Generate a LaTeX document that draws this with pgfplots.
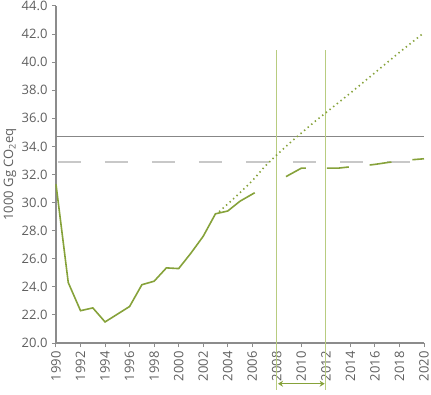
\documentclass[border=0pt]{standalone}
\usepackage{pgfplots}
\pgfplotsset{compat=1.18}
\usepackage{fontspec}
\setmainfont{Open Sans}
\usetikzlibrary{arrows.meta}

\definecolor{emis}{RGB}{134,162,58}
\definecolor{kyoto}{RGB}{184,204,128}
\definecolor{axisgray}{RGB}{140,140,140}
\definecolor{txtgray}{RGB}{95,95,95}
\definecolor{basegray}{RGB}{135,135,135}
\definecolor{targetgray}{RGB}{200,200,200}

\begin{document}
\fontsize{13bp}{15bp}\selectfont
\begin{tikzpicture}[font=\fontsize{13bp}{15bp}\selectfont]
\begin{axis}[
  scale only axis,
  width=368bp, height=337bp,
  xmin=1990, xmax=2020,
  ymin=20, ymax=44,
  xtick={1990,1992,...,2020},
  ytick={20,22,...,44},
  axis x line*=bottom,
  axis y line*=left,
  axis line style={axisgray, line width=1.1bp},
  tick style={axisgray, line width=1bp},
  tick align=outside,
  major tick length=4bp,
  /pgf/number format/assume math mode=true,
  tick label style={font=\fontsize{13bp}{15bp}\selectfont, text=txtgray},
  x tick label style={rotate=90, anchor=east,
    /pgf/number format/1000 sep={}},
  y tick label style={/pgf/number format/.cd, fixed, fixed zerofill, precision=1},
  ylabel={1000 Gg CO\textsubscript{2}eq},
  every axis y label/.style={at={(axis description cs:0,0.5)}, rotate=90,
    anchor=center, yshift=46bp, font=\fontsize{13bp}{15bp}\selectfont, text=txtgray},
  clip=false,
]
% Kyoto reference lines
\addplot[basegray, line width=1.8bp] coordinates {(1990,34.7) (2020,34.7)};
\addplot[targetgray, line width=1.8bp, dash pattern=on 23bp off 24bp]
  coordinates {(1990.15,32.9) (2020,32.9)};

% commitment period 2008--2012
\draw[kyoto, line width=1.2bp] (axis cs:2008,40.85) -- (axis cs:2008,16.65);
\draw[kyoto, line width=1.2bp] (axis cs:2012,40.85) -- (axis cs:2012,16.65);
\draw[emis, line width=1.4bp, {Stealth[length=5bp,width=6bp]}-{Stealth[length=5bp,width=6bp]}]
  (axis cs:2008.1,17.1) -- (axis cs:2011.9,17.1);

% historical emissions
\addplot[emis, line width=1.6bp] coordinates {
  (1990,31.3) (1991,24.3) (1992,22.3) (1993,22.5) (1994,21.5)
  (1995,22.05) (1996,22.6) (1997,24.15) (1998,24.4) (1999,25.35)
  (2000,25.3) (2001,26.4) (2002,27.6) (2003,29.2) (2004,29.4)
  (2005,30.1) (2006,30.6) (2006.2,30.7)};

% trend without measures
\addplot[emis, line width=1.6bp, dash pattern=on 1.4bp off 3.3bp] coordinates {
  (2003.3,29.35) (2004,29.9) (2005,30.7) (2006,31.55) (2007,32.55)
  (2008,33.4) (2009,34.2) (2010,34.95) (2011,35.7) (2012,36.4)
  (2014,37.8) (2016,39.25) (2018,40.7) (2020,42.1)};

% projection with measures
\addplot[emis, line width=1.6bp, dash pattern=on 22bp off 21bp] coordinates {
  (2008.75,31.85) (2010,32.45) (2011,32.45) (2012,32.45) (2013,32.45)
  (2014,32.55) (2015,32.62) (2016,32.72) (2017,32.85) (2018,32.95)
  (2019,33.05) (2020,33.12)};
\end{axis}
\pgfresetboundingbox
\path[use as bounding box]
  ([shift={(-56bp,-52bp)}]current axis.south west) rectangle
  ([shift={(7bp,6bp)}]current axis.north east);
\end{tikzpicture}
\end{document}
